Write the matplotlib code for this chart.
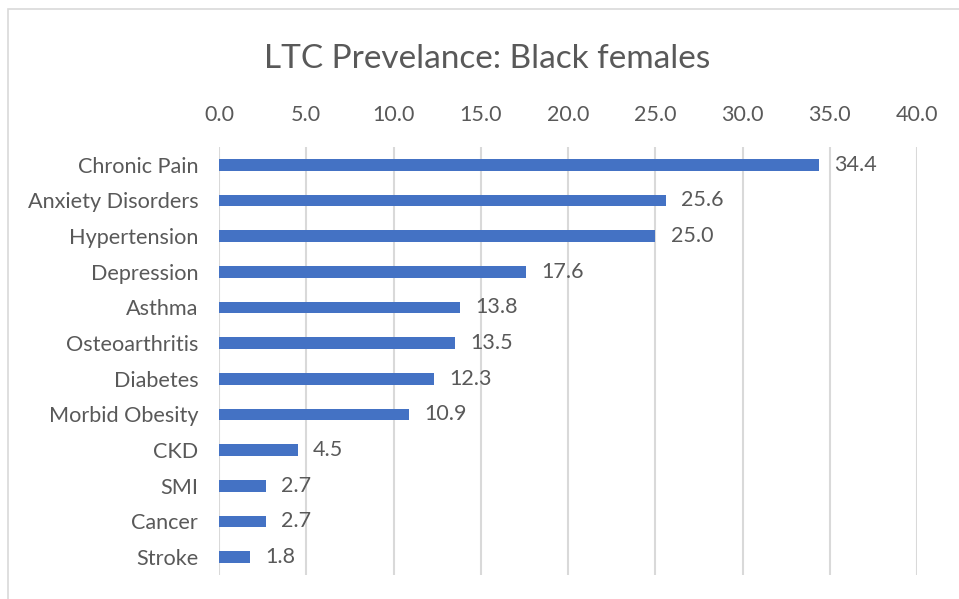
import matplotlib.pyplot as plt
from matplotlib.patches import Rectangle

conditions = ["Chronic Pain", "Anxiety Disorders", "Hypertension", "Depression",
              "Asthma", "Osteoarthritis", "Diabetes", "Morbid Obesity",
              "CKD", "SMI", "Cancer", "Stroke"]
prevalence = [34.4, 25.6, 25.0, 17.6, 13.8, 13.5, 12.3, 10.9, 4.5, 2.7, 2.7, 1.8]
x_ticks = [0, 5, 10, 15, 20, 25, 30, 35, 40]

plt.rcParams['font.family'] = ['Lato', 'DejaVu Sans']
text_color = "#595959"
bar_color = "#4472C4"
grid_color = "#D9D9D9"

fig = plt.figure(figsize=(9.59, 5.99), dpi=100)
ax = fig.add_axes([0.2284, 0.0401, 0.7278, 0.7145])

y_pos = list(range(len(conditions)))
ax.barh(y_pos, prevalence, height=0.33, color=bar_color, zorder=3)
ax.set_ylim(len(conditions) - 0.5, -0.5)
ax.set_yticks(y_pos)
ax.set_yticklabels(conditions)

ax.set_xlim(0, 40)
ax.set_xticks(x_ticks)
ax.set_xticklabels([f"{t:.1f}" for t in x_ticks])
ax.xaxis.tick_top()
ax.grid(axis="x", color=grid_color, linewidth=1.5, zorder=0)

ax.tick_params(axis="x", length=0, pad=16, labelsize=15.5, labelcolor=text_color)
ax.tick_params(axis="y", length=0, pad=15, labelsize=15.6, labelcolor=text_color)
for spine in ax.spines.values():
    spine.set_visible(False)

# value labels at the bar ends
for y, v in zip(y_pos, prevalence):
    ax.annotate(f"{v:.1f}", xy=(v, y), xytext=(11, 0), textcoords="offset points",
                va="center", ha="left", fontsize=15.5, color=text_color)

fig.text(0.508, 0.902, "LTC Prevelance: Black females", ha="center", va="center",
         fontsize=24, color=text_color)

# chart border
fig.patches.append(Rectangle((8 / 959, -0.1), 1.2, 1.085, transform=fig.transFigure,
                             fill=False, edgecolor=grid_color, linewidth=1.2))

fig.savefig("out.png", dpi=100)
